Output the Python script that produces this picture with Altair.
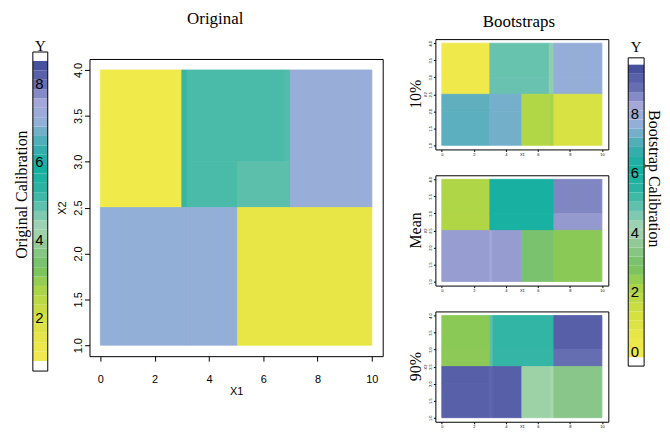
import altair as alt
import pandas as pd

SERIF = "Liberation Serif"
SANS = "Liberation Sans"

# colour palette: fraction along the colour bar -> colour
pal_t = [0.00, 0.08, 0.16, 0.24, 0.31, 0.38, 0.44, 0.50, 0.56, 0.65, 0.72, 0.79, 0.86, 0.92, 1.00]
pal_c = ["#f2ea4c", "#e6e646", "#cfdf40", "#a8d448", "#74c062", "#8cc890", "#a8d6b4", "#70c4b0",
         "#30b4a4", "#10b0a0", "#40aeb0", "#90b0d8", "#a4a8d8", "#6870b4", "#404a98"]

# colour-bar ranges
orig_lo, orig_hi = 0.88, 8.59
orig_box = [0.62, 8.82]
orig_bar_dom = [1.003, 8.641]
orig_ticks = [2, 4, 6, 8]

boot_lo, boot_hi = -0.2, 9.64
boot_box = [-0.5, 9.87]
boot_bar_dom = [-0.5, 10.5]
boot_ticks = [0, 2, 4, 6, 8]

x_ticks = [0, 2, 4, 6, 8, 10]
y_ticks = [1.0, 1.5, 2.0, 2.5, 3.0, 3.5, 4.0]

# ---- Original surface (cells) ----
orig_x1 = [0, 3.0, 3.2, 6.8, 3.2, 5.05, 7, 0, 3.2, 5.05]
orig_x2 = [3, 3.2, 6.8, 7.0, 5.05, 7.0, 10, 3.2, 5.05, 10]
orig_y1 = [2.5, 2.5, 3.0, 3.0, 2.5, 2.5, 2.5, 1, 1, 1]
orig_y2 = [4, 4, 4, 4, 3.0, 3.0, 4, 2.5, 2.5, 2.5]
orig_val = [0.95, 5.15, 5.0, 4.95, 5.0, 4.88, 7.2, 7.02, 7.05, 1.45]

# ---- Bootstrap 10% ----
b10_x1 = [0, 3, 3, 6.7, 7, 7, 0, 0, 3, 3, 5, 6.8, 7]
b10_x2 = [3, 6.7, 6.7, 7, 10, 10, 3, 3, 5, 5, 6.8, 7, 10]
b10_y1 = [2.5, 3, 2.5, 2.5, 3, 2.5, 2, 1, 2, 1, 1, 1, 1]
b10_y2 = [4, 4, 3, 4, 4, 3, 2.5, 2, 2.5, 2, 2.5, 2.5, 2.5]
b10_val = [-0.1, 4.8, 4.78, 4.4, 7.74, 7.72, 7.15, 7.13, 7.35, 7.33, 1.96, 2.15, 1.07]

# ---- Bootstrap mean ----
bm_x1 = [0, 0, 3, 3, 7, 7, 0, 3, 3.15, 5, 7]
bm_x2 = [3, 3, 7, 7, 10, 10, 3, 3.15, 5, 7, 10]
bm_y1 = [3, 2.5, 3, 2.5, 3, 2.5, 1, 1, 1, 1, 1]
bm_y2 = [4, 3, 4, 3, 4, 3, 2.5, 2.5, 2.5, 2.5, 2.5]
bm_val = [2.05, 2.0, 5.97, 5.95, 8.62, 8.42, 8.38, 8.23, 8.4, 3.03, 2.54]

# ---- Bootstrap 90% ----
b90_x1 = [0, 0, 3, 3.2, 3.2, 7, 7, 0, 0, 3, 3.2, 5, 6.8, 7]
b90_x2 = [3, 3, 3.2, 7, 7, 10, 10, 3, 3, 3.2, 5, 6.8, 7, 10]
b90_y1 = [3, 2.5, 2.5, 3, 2.5, 3, 2.5, 2, 1, 1, 1, 1, 1, 1]
b90_y2 = [4, 3, 4, 4, 3, 4, 3, 2.5, 2, 2.5, 2.5, 2.5, 2.5, 2.5]
b90_val = [2.55, 2.53, 4.9, 5.29, 5.27, 9.2, 8.9, 9.2, 9.18, 9.05, 9.2, 3.9, 4.1, 3.43]


def make_scale(lo, hi):
    return alt.Scale(type="linear", domain=[round(lo + t * (hi - lo), 4) for t in pal_t],
                     range=pal_c, interpolate="rgb", clamp=True)


orig_scale = make_scale(orig_lo, orig_hi)
boot_scale = make_scale(boot_lo, boot_hi)

XDOM = [-0.4, 10.4]
YDOM = [0.88, 4.12]


def heat(x1, x2, y1, y2, vals, field, scale, w, h, big, row_title=None):
    df = pd.DataFrame({"x1": x1, "x2": x2, "y1": y1, "y2": y2, field: vals})
    if big:
        fs, tsz, xlp, ylp, xtp, ytp = 11, 5, 13, 1, 1, 5
    else:
        fs, tsz, xlp, ylp, xtp, ytp = 4, 2, 1, 1, -4, 1
    common = dict(grid=False, domain=False, ticks=True, tickSize=tsz, tickColor="black",
                  labelFont=SANS, labelFontSize=fs, labelColor="black", labelFlush=False,
                  labelOverlap=False, titleFont=SANS, titleFontSize=fs,
                  titleFontWeight="normal", titleColor="black")
    xa = alt.Axis(values=x_ticks, title="X1", labelPadding=xlp, titlePadding=xtp, **common)
    ya = alt.Axis(values=y_ticks, format=".1f", title="X2", labelAngle=270, labelAlign="center",
                  labelBaseline="bottom", labelPadding=ylp, titlePadding=ytp, **common)
    ch = alt.Chart(df).mark_rect(strokeWidth=0.8).encode(
        x=alt.X("x1:Q", scale=alt.Scale(domain=XDOM, nice=False, zero=False), axis=xa),
        x2="x2:Q",
        y=alt.Y("y1:Q", scale=alt.Scale(domain=YDOM, nice=False, zero=False), axis=ya),
        y2="y2:Q",
        color=alt.Color(f"{field}:Q", scale=scale, legend=None),
        stroke=alt.Stroke(f"{field}:Q", scale=scale, legend=None),
    )
    props = dict(width=w, height=h, view=alt.ViewBackground(stroke="black", strokeWidth=1))
    if row_title:
        props["title"] = alt.TitleParams(row_title, orient="left", font=SERIF, fontSize=16,
                                         fontWeight="normal", color="black", anchor="middle",
                                         offset=-1)
    return ch.properties(**props)


def colorbar(lo, hi, box, dom, ticks, scale, w, h, title, tx, ty, tangle, yoff):
    step = (hi - lo) / 32
    yscale = alt.Scale(domain=dom, nice=False, zero=False)
    axis = alt.Axis(values=ticks, orient="left", grid=False, domain=False, ticks=False,
                    tickSize=0, labelAlign="left", labelBaseline="middle", labelPadding=-2,
                    labelFont=SANS, labelFontSize=15, labelColor="black", labelFlush=False,
                    labelOverlap=False, zindex=1, title=title, titleFont=SERIF,
                    titleFontSize=16, titleFontWeight="normal", titleColor="black",
                    titleAngle=tangle, titleAlign="center", titleBaseline="middle",
                    titleX=tx, titleY=ty)
    bands = alt.Chart(alt.sequence(lo, hi - step / 2, step, as_="v")).transform_calculate(
        v2=f"datum.v + {step}", c=f"datum.v + {step / 2}"
    ).mark_rect(strokeWidth=0).encode(
        y=alt.Y("v:Q", scale=yscale, axis=axis),
        y2="v2:Q",
        color=alt.Color("c:Q", scale=scale, legend=None),
    )
    frame = alt.Chart(pd.DataFrame({"b0": [box[0]], "b1": [box[1]]})).mark_rect(
        fillOpacity=0, stroke="black", strokeWidth=1
    ).encode(y=alt.Y("b0:Q", scale=yscale, axis=axis), y2="b1:Q")
    return alt.layer(bands, frame).properties(
        width=w, height=h,
        title=alt.TitleParams("Y", font=SERIF, fontSize=15, fontWeight="normal", color="black",
                              frame="group", anchor="middle", offset=yoff),
        view=alt.ViewBackground(stroke="transparent"),
    )


orig_bar = colorbar(orig_lo, orig_hi, orig_box, orig_bar_dom, orig_ticks, orig_scale,
                    15, 299, "Original Calibration", -11, 136, 270, -2)
boot_bar = colorbar(boot_lo, boot_hi, boot_box, boot_bar_dom, boot_ticks, boot_scale,
                    16, 329, "Bootstrap Calibration", 25, 140, 90, -16)

main = heat(orig_x1, orig_x2, orig_y1, orig_y2, orig_val, "orig", orig_scale, 295, 299, True)
p10 = heat(b10_x1, b10_x2, b10_y1, b10_y2, b10_val, "boot", boot_scale, 174, 111, False, "10%")
pmean = heat(bm_x1, bm_x2, bm_y1, bm_y2, bm_val, "boot", boot_scale, 174, 111, False, "Mean")
p90 = heat(b90_x1, b90_x2, b90_y1, b90_y2, b90_val, "boot", boot_scale, 174, 111, False, "90%")

spacer = alt.Chart(pd.DataFrame({"s": [0]})).mark_point(opacity=0).encode(
    x=alt.value(0), y=alt.value(0)
).properties(width=10, height=20, view=alt.ViewBackground(stroke="transparent"))

left_row = alt.hconcat(orig_bar, main, spacing=42, bounds="flush")
left = alt.vconcat(spacer, left_row, spacing=0, bounds="flush").properties(
    title=alt.TitleParams("Original", font=SERIF, fontSize=17, fontWeight="normal",
                          color="black", anchor="middle", offset=8, dx=17)
)
panels = alt.vconcat(p10, pmean, p90, spacing=26, bounds="flush")
right = alt.hconcat(panels, boot_bar, spacing=18).properties(
    title=alt.TitleParams("Bootstraps", font=SERIF, fontSize=17, fontWeight="normal",
                          color="black", anchor="middle", offset=8, dx=-16)
)

chart = alt.hconcat(left, right, spacing=24).resolve_scale(
    color="independent", stroke="independent"
).properties(
    padding={"left": 5, "top": 0, "right": 0, "bottom": 0}
).configure_view(stroke="black", strokeWidth=1).configure(font=SANS)

chart.save("out.html", embed_options={"renderer": "svg", "actions": False})
